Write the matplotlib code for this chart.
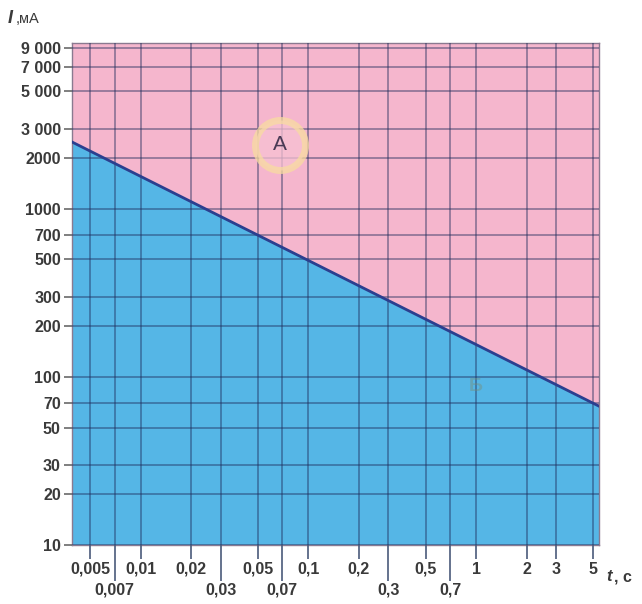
import matplotlib
matplotlib.use("Agg")
import matplotlib.pyplot as plt
from matplotlib.ticker import NullLocator

# boundary line between zones
line_t = [0.0039, 5.4]
line_i = [2500, 67]

# axis ticks
x_upper = [0.005, 0.01, 0.02, 0.05, 0.1, 0.2, 0.5, 1, 2, 3, 5]
x_upper_labels = ["0,005", "0,01", "0,02", "0,05", "0,1", "0,2", "0,5", "1", "2", "3", "5"]
x_lower = [0.007, 0.03, 0.07, 0.3, 0.7]
x_lower_labels = ["0,007", "0,03", "0,07", "0,3", "0,7"]
y_ticks = [10, 20, 30, 50, 70, 100, 200, 300, 500, 700, 1000, 2000, 3000, 5000, 7000, 9000]
y_labels = ["10", "20", "30", "50", "70", "100", "200", "300", "500", "700",
            "1000", "2000", "3 000", "5 000", "7 000", "9 000"]

# zone labels
zone_a = (0.068, 2400)
zone_b = (1.0, 88)

PINK = "#f5b6cd"
BLUE = "#55b6e6"
GRID = "#1f2d5c"
TXT = "#3a3a3a"

plt.rcParams["font.family"] = ["Liberation Sans", "DejaVu Sans"]

fig = plt.figure(figsize=(6.42, 6.04), dpi=100)
ax = fig.add_axes([0.1121, 0.0977, 0.8209, 0.8311])
ax.set_xscale("log")
ax.set_yscale("log")
xmin, xmax = line_t[0], line_t[-1]
ymin, ymax = 10, 9700
ax.set_xlim(xmin, xmax)
ax.set_ylim(ymin, ymax)

ax.set_facecolor(PINK)
ax.fill_between(line_t, ymin, line_i, color=BLUE, lw=0, zorder=1)
ax.plot(line_t, line_i, color="#2b3f8f", lw=2, zorder=3)

ax.set_xticks(x_upper)
ax.set_xticklabels(x_upper_labels)
ax.set_xticks(x_lower, minor=True)
ax.set_xticklabels(x_lower_labels, minor=True)
ax.set_yticks(y_ticks)
ax.set_yticklabels(y_labels)
ax.yaxis.set_minor_locator(NullLocator())

ax.tick_params(axis="x", which="major", length=10, width=1.2, color="#4a5a7a",
               pad=2, labelsize=11.5, labelcolor=TXT)
ax.tick_params(axis="x", which="minor", length=26, width=1.2, color="#4a5a7a",
               pad=1, labelsize=11.5, labelcolor=TXT)
ax.tick_params(axis="y", which="major", length=6, width=1.2, color="#6a6a6a",
               pad=2, labelsize=11.5, labelcolor=TXT)
for lab in ax.get_xticklabels(which="both") + ax.get_yticklabels():
    lab.set_fontweight("bold")

ax.grid(True, which="both", axis="x", color=GRID, alpha=0.5, lw=1.2, zorder=2)
ax.grid(True, which="major", axis="y", color=GRID, alpha=0.5, lw=1.2, zorder=2)
ax.set_axisbelow(False)
for s in ax.spines.values():
    s.set_color("#8a7a90")
    s.set_linewidth(1)

# zone A with soft ring
ax.plot(*zone_a, marker="o", ms=36, mfc="#f7c2d3", mec="#f8dca0", mew=5, alpha=0.75, zorder=4)
ax.text(*zone_a, "A", ha="center", va="center", fontsize=15, color="#4a3a55", zorder=5)
ax.text(*zone_b, "Б", ha="center", va="center", fontsize=14, color="#7a8a70",
        alpha=0.4, fontweight="bold", zorder=4)

fig.text(0.012, 0.962, "I", fontsize=13, fontweight="bold", style="italic", color=TXT)
fig.text(0.024, 0.962, ",мА", fontsize=10.5, color=TXT)
fig.text(0.944, 0.038, "t", fontsize=12, fontweight="bold", style="italic", color=TXT)
fig.text(0.956, 0.038, ", с", fontsize=11.5, fontweight="bold", color=TXT)

fig.savefig("out.png", dpi=100, facecolor="white")
